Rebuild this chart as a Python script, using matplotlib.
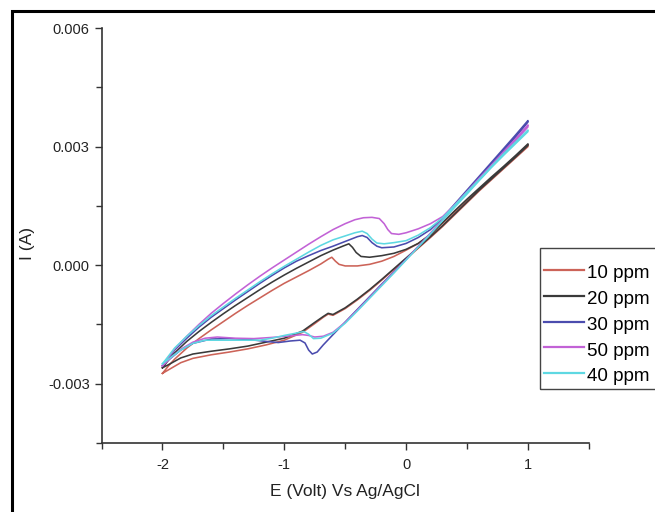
import matplotlib
matplotlib.use("Agg")
import matplotlib.pyplot as plt
from matplotlib.patches import Rectangle
from matplotlib.ticker import MultipleLocator, FormatStrFormatter

plt.rcParams['font.family'] = ['Liberation Sans', 'DejaVu Sans']
plt.rcParams['axes.unicode_minus'] = False

labels = ["10 ppm", "20 ppm", "30 ppm", "50 ppm", "40 ppm"]
colors = ["#cc6358", "#3a3a3a", "#4b4cae", "#c262d6", "#5ed8e2"]

# ---- 10 ppm (current in mA) ----
up10_x = [-2, -1.95, -1.9, -1.8, -1.7, -1.6, -1.5, -1.4, -1.3, -1.2, -1.1, -1.0, -0.9, -0.8, -0.7, -0.64, -0.61,
          -0.58, -0.55, -0.5, -0.4, -0.3, -0.2, -0.1, 0.0, 0.1, 0.2, 0.3, 0.4, 0.5, 0.6, 0.7, 0.8, 0.9, 1.0]
up10_y = [-2.74, -2.55, -2.38, -2.1, -1.86, -1.64, -1.43, -1.22, -1.02, -0.83, -0.64, -0.46, -0.3, -0.14, 0.03, 0.15, 0.2,
          0.1, 0.02, -0.02, -0.02, 0.02, 0.1, 0.22, 0.38, 0.55, 0.77, 1.06, 1.35, 1.64, 1.92, 2.2, 2.48, 2.76, 3.05]
lo10_x = [1.0, 0.9, 0.8, 0.7, 0.6, 0.5, 0.4, 0.3, 0.2, 0.1, 0.0, -0.1, -0.2, -0.3, -0.4, -0.5, -0.6, -0.64, -0.68,
          -0.75, -0.85, -1.0, -1.15, -1.3, -1.45, -1.6, -1.75, -1.85, -1.95, -2.0]
lo10_y = [3.0, 2.72, 2.44, 2.16, 1.88, 1.58, 1.28, 0.98, 0.7, 0.43, 0.16, -0.11, -0.38, -0.64, -0.88, -1.1, -1.27, -1.24, -1.32,
          -1.48, -1.7, -1.9, -2.02, -2.12, -2.2, -2.27, -2.36, -2.47, -2.65, -2.74]

# ---- 20 ppm ----
up20_x = [-2, -1.95, -1.9, -1.8, -1.7, -1.6, -1.5, -1.4, -1.3, -1.2, -1.1, -1.0, -0.9, -0.8, -0.7, -0.6, -0.52, -0.47,
          -0.44, -0.41, -0.37, -0.3, -0.2, -0.1, 0.0, 0.1, 0.2, 0.3, 0.4, 0.5, 0.6, 0.7, 0.8, 0.9, 1.0]
up20_y = [-2.6, -2.4, -2.22, -1.93, -1.68, -1.45, -1.23, -1.02, -0.82, -0.62, -0.43, -0.25, -0.08, 0.08, 0.24, 0.38, 0.48, 0.54,
          0.45, 0.32, 0.22, 0.2, 0.24, 0.3, 0.4, 0.55, 0.78, 1.08, 1.38, 1.67, 1.95, 2.23, 2.5, 2.78, 3.07]
lo20_x = [1.0, 0.9, 0.8, 0.7, 0.6, 0.5, 0.4, 0.3, 0.2, 0.1, 0.0, -0.1, -0.2, -0.3, -0.4, -0.5, -0.6, -0.64, -0.68,
          -0.75, -0.85, -1.0, -1.15, -1.3, -1.45, -1.6, -1.75, -1.85, -1.95, -2.0]
lo20_y = [3.03, 2.74, 2.46, 2.18, 1.9, 1.6, 1.3, 1.0, 0.72, 0.45, 0.18, -0.09, -0.36, -0.62, -0.86, -1.08, -1.25, -1.22, -1.3,
          -1.45, -1.67, -1.85, -1.95, -2.05, -2.12, -2.18, -2.25, -2.35, -2.52, -2.6]

# ---- 30 ppm ----
up30_x = [-2, -1.95, -1.9, -1.8, -1.7, -1.6, -1.5, -1.4, -1.3, -1.2, -1.1, -1.0, -0.9, -0.8, -0.7, -0.6, -0.5, -0.4,
          -0.36, -0.32, -0.28, -0.24, -0.2, -0.1, 0.0, 0.1, 0.2, 0.3, 0.4, 0.5, 0.6, 0.7, 0.8, 0.9, 1.0]
up30_y = [-2.55, -2.35, -2.15, -1.85, -1.57, -1.32, -1.1, -0.88, -0.67, -0.46, -0.26, -0.07, 0.1, 0.24, 0.37, 0.48, 0.6, 0.72,
          0.75, 0.7, 0.57, 0.48, 0.44, 0.46, 0.55, 0.7, 0.9, 1.2, 1.55, 1.9, 2.25, 2.6, 2.95, 3.3, 3.66]
lo30_x = [1.0, 0.9, 0.8, 0.7, 0.6, 0.5, 0.4, 0.3, 0.2, 0.1, 0.0, -0.1, -0.2, -0.3, -0.4, -0.5, -0.6, -0.68, -0.73,
          -0.77, -0.8, -0.83, -0.87, -0.95, -1.05, -1.15, -1.3, -1.45, -1.6, -1.75, -1.85, -1.95, -2.0]
lo30_y = [3.62, 3.25, 2.9, 2.55, 2.2, 1.85, 1.5, 1.15, 0.8, 0.47, 0.15, -0.17, -0.48, -0.8, -1.12, -1.44, -1.76, -2.02, -2.2,
          -2.25, -2.15, -1.97, -1.9, -1.92, -1.96, -1.93, -1.88, -1.86, -1.87, -1.98, -2.15, -2.4, -2.55]

# ---- 50 ppm ----
up50_x = [-2, -1.95, -1.9, -1.8, -1.7, -1.6, -1.5, -1.4, -1.3, -1.2, -1.1, -1.0, -0.9, -0.8, -0.7, -0.6, -0.5, -0.42,
          -0.35, -0.28, -0.22, -0.18, -0.15, -0.12, -0.06, 0.0, 0.1, 0.2, 0.3, 0.4, 0.5, 0.6, 0.7, 0.8, 0.9, 1.0]
up50_y = [-2.55, -2.33, -2.12, -1.8, -1.5, -1.22, -0.97, -0.73, -0.5, -0.28, -0.07, 0.13, 0.33, 0.53, 0.72, 0.9, 1.05, 1.15,
          1.2, 1.21, 1.18, 1.05, 0.9, 0.8, 0.78, 0.82, 0.92, 1.05, 1.23, 1.53, 1.86, 2.2, 2.53, 2.87, 3.2, 3.55]
lo50_x = [1.0, 0.9, 0.8, 0.7, 0.6, 0.5, 0.4, 0.3, 0.2, 0.1, 0.0, -0.1, -0.2, -0.3, -0.4, -0.5, -0.6, -0.68, -0.75,
          -0.8, -0.85, -0.95, -1.1, -1.25, -1.4, -1.55, -1.65, -1.75, -1.85, -1.95, -2.0]
lo50_y = [3.5, 3.15, 2.83, 2.5, 2.17, 1.83, 1.49, 1.15, 0.81, 0.48, 0.14, -0.18, -0.5, -0.82, -1.14, -1.45, -1.7, -1.8, -1.82,
          -1.78, -1.76, -1.79, -1.83, -1.86, -1.85, -1.82, -1.85, -1.95, -2.13, -2.4, -2.55]

# ---- 40 ppm ----
up40_x = [-2, -1.95, -1.9, -1.8, -1.7, -1.6, -1.5, -1.4, -1.3, -1.2, -1.1, -1.0, -0.9, -0.8, -0.7, -0.6, -0.5, -0.42,
          -0.36, -0.32, -0.28, -0.24, -0.18, -0.1, 0.0, 0.1, 0.2, 0.3, 0.4, 0.5, 0.6, 0.7, 0.8, 0.9, 1.0]
up40_y = [-2.5, -2.3, -2.1, -1.8, -1.53, -1.28, -1.06, -0.84, -0.63, -0.42, -0.22, -0.03, 0.15, 0.33, 0.5, 0.64, 0.74, 0.82,
          0.86, 0.8, 0.66, 0.56, 0.54, 0.57, 0.62, 0.76, 0.95, 1.2, 1.52, 1.85, 2.17, 2.5, 2.82, 3.12, 3.42]
lo40_x = [1.0, 0.9, 0.8, 0.7, 0.6, 0.5, 0.4, 0.3, 0.2, 0.1, 0.0, -0.1, -0.2, -0.3, -0.4, -0.5, -0.6, -0.7, -0.76,
          -0.8, -0.84, -0.9, -1.0, -1.1, -1.2, -1.35, -1.5, -1.65, -1.75, -1.85, -1.95, -2.0]
lo40_y = [3.38, 3.08, 2.78, 2.47, 2.14, 1.8, 1.47, 1.13, 0.79, 0.46, 0.13, -0.2, -0.52, -0.84, -1.16, -1.47, -1.72, -1.85, -1.86,
          -1.75, -1.68, -1.72, -1.78, -1.85, -1.9, -1.9, -1.9, -1.9, -1.98, -2.15, -2.38, -2.5]

curves = [
    (up10_x, up10_y, lo10_x, lo10_y),
    (up20_x, up20_y, lo20_x, lo20_y),
    (up30_x, up30_y, lo30_x, lo30_y),
    (up50_x, up50_y, lo50_x, lo50_y),
    (up40_x, up40_y, lo40_x, lo40_y),
]

x_ticks = [-2, -1, 0, 1]
y_ticks = [-0.003, 0.000, 0.003, 0.006]

fig = plt.figure(figsize=(6.55, 5.12), dpi=100)
ax = fig.add_axes([0.155, 0.135, 0.744, 0.81])

handles = []
for (ux, uy, lx, ly), lab, col in zip(curves, labels, colors):
    xs = list(ux) + list(lx)
    ys = [v * 1e-3 for v in (list(uy) + list(ly))]
    h, = ax.plot(xs, ys, color=col, lw=1.15, label=lab)
    handles.append(h)

ax.set_xlim(-2.5, 1.5)
ax.set_ylim(-0.0045, 0.006)
ax.set_xticks(x_ticks)
ax.set_yticks(y_ticks)
ax.xaxis.set_minor_locator(MultipleLocator(0.5))
ax.yaxis.set_minor_locator(MultipleLocator(0.0015))
ax.yaxis.set_major_formatter(FormatStrFormatter('%.3f'))
ax.tick_params(which='major', direction='out', length=5, width=1, colors='#333333', labelsize=10.5,
               labelcolor='#222222')
ax.tick_params(axis='x', which='major', pad=6)
ax.tick_params(which='minor', direction='out', length=4, width=1, colors='#333333')
for s in ['top', 'right']:
    ax.spines[s].set_visible(False)
for s in ['left', 'bottom']:
    ax.spines[s].set_color('#333333')
    ax.spines[s].set_linewidth(1.2)

ax.set_xlabel("E (Volt) Vs Ag/AgCl", fontsize=12.5, color='#222222')
ax.set_ylabel("I (A)", fontsize=12.5, color='#222222')
ax.xaxis.set_label_coords(0.5, -0.1)
ax.yaxis.set_label_coords(-0.137, 0.48)

# legend entries (frame drawn separately so it can run past the right edge like the reference)
leg = fig.legend(handles=handles, labels=labels, loc='center left',
                 bbox_to_anchor=(544 / 655, 1 - 323.5 / 512), bbox_transform=fig.transFigure,
                 fontsize=13.5, frameon=False, handlelength=2.15, handleheight=1.3,
                 handletextpad=0.15, labelspacing=0.28, borderpad=0.0, borderaxespad=0)
for lh in leg.get_lines():
    lh.set_linewidth(1.6)

fig.patches.append(Rectangle((540 / 655, 1 - 389 / 512), 0.3, 141 / 512, transform=fig.transFigure,
                             fill=False, edgecolor='#444444', linewidth=1.0, clip_on=False))

fig.patches.append(Rectangle((12 / 655, -0.1), 1.2, 1 - 11 / 512 + 0.1, transform=fig.transFigure,
                             fill=False, edgecolor='black', linewidth=2.2, clip_on=False))

fig.savefig("out.png", dpi=100)
